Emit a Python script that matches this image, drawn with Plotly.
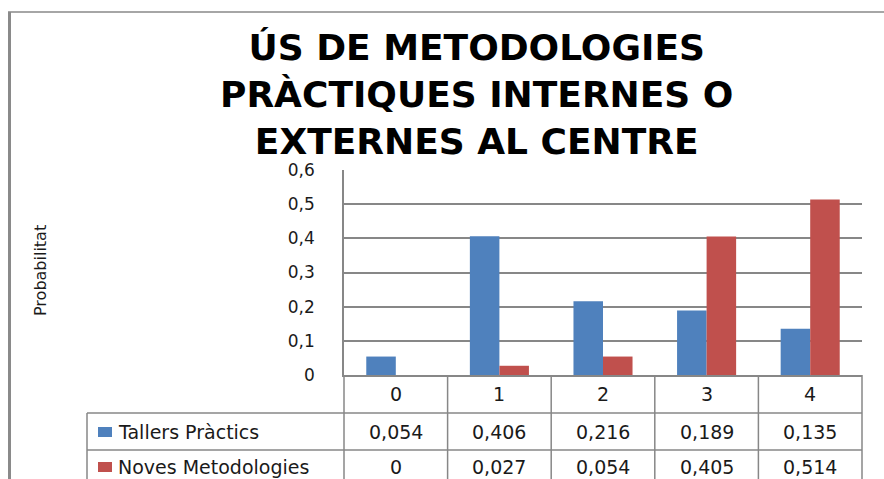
import plotly.graph_objects as go

categories = ["0", "1", "2", "3", "4"]
series_names = ["Tallers Pràctics", "Noves Metodologies"]
tallers = [0.054, 0.406, 0.216, 0.189, 0.135]
noves = [0.0, 0.027, 0.054, 0.405, 0.514]
table_text = [["0,054", "0,406", "0,216", "0,189", "0,135"],
              ["0", "0,027", "0,054", "0,405", "0,514"]]
ytick_vals = [0, 0.1, 0.2, 0.3, 0.4, 0.5, 0.6]
ytick_text = ["0", "0,1", "0,2", "0,3", "0,4", "0,5", "0,6"]
colors = ["#4F81BD", "#C0504D"]

W, H = 884, 479
FONT = "DejaVu Sans, sans-serif"
TXT = "#1a1a1a"
LINE = "#878787"

x0, x1 = 344, 862
ytop, ybot = 170, 375

def px(x):
    return x / W

def py(y):
    return 1 - y / H

fig = go.Figure()
for name, vals, c in zip(series_names, [tallers, noves], colors):
    fig.add_trace(go.Bar(x=categories, y=vals, name=name, marker_color=c,
                         marker_line_width=0, showlegend=False, hoverinfo="skip"))

shapes = []
def line(xa, ya, xb, yb, w=1.5, col=LINE):
    shapes.append(dict(type="line", xref="paper", yref="paper",
                       x0=px(xa), y0=py(ya), x1=px(xb), y1=py(yb),
                       line=dict(color=col, width=w)))

# outer chart border
line(8, 12, 884, 12, w=2, col="#a6a6a6")
line(9.5, 12, 9.5, 479, w=3, col="#8a8a8a")

# data table grid
ncat = len(categories)
colw = (x1 - x0) / ncat
for i in range(ncat + 1):
    xx = x0 + i * colw
    line(xx, ybot, xx, 479)
line(87, 413, 87, 479)
line(87, 413, x1, 413)
line(87, 450, x1, 450)

annotations = []
def text(x, y, t, size, xanchor="center", **kw):
    annotations.append(dict(x=px(x), y=py(y), xref="paper", yref="paper", text=t,
                            xanchor=xanchor, yanchor="middle", showarrow=False,
                            font=dict(family=FONT, size=size, color=TXT), **kw))

for i, cat in enumerate(categories):
    text(x0 + (i + 0.5) * colw, 394, cat, 19)
row_y = [432, 467]
for r, name in enumerate(series_names):
    yc = row_y[r]
    shapes.append(dict(type="rect", xref="paper", yref="paper",
                       x0=px(98), x1=px(112), y0=py(yc - 5), y1=py(yc + 5),
                       fillcolor=colors[r], line=dict(width=0)))
    text(116, yc, name, 19, xanchor="left")
    for i, t in enumerate(table_text[r]):
        text(x0 + (i + 0.5) * colw, yc, t, 19)

text(40, 271, "Probabilitat", 16, textangle=-90)
annotations.append(dict(x=px(476), y=py(95), xref="paper", yref="paper",
                        xanchor="center", yanchor="middle",
                        text="<b>ÚS DE METODOLOGIES<br>PRÀCTIQUES INTERNES O<br>EXTERNES AL CENTRE</b>",
                        showarrow=False, align="center",
                        font=dict(family=FONT, size=36, color="#000000")))

fig.update_layout(
    width=W, height=H, margin=dict(l=0, r=0, t=0, b=0, autoexpand=False),
    paper_bgcolor="white", plot_bgcolor="white",
    barmode="group", bargap=0.43, bargroupgap=0,
    shapes=shapes, annotations=annotations, hovermode=False,
    xaxis=dict(domain=[px(x0), px(x1)], showticklabels=False, ticks="",
               showgrid=False, showline=True, linecolor=LINE, linewidth=1.5,
               automargin=False),
    yaxis=dict(domain=[py(ybot), py(ytop)], range=[0, 0.6], tickvals=ytick_vals,
               ticktext=ytick_text, showgrid=True, gridcolor=LINE, gridwidth=1.5,
               showline=True, linecolor=LINE, linewidth=1.5, zeroline=False,
               ticks="", ticklabelstandoff=24, automargin=False,
               tickfont=dict(family=FONT, size=17, color=TXT)),
)

fig.write_html("out.html", config={"displayModeBar": False},
               post_script="document.body.style.margin='0';document.body.style.overflow='hidden';")
